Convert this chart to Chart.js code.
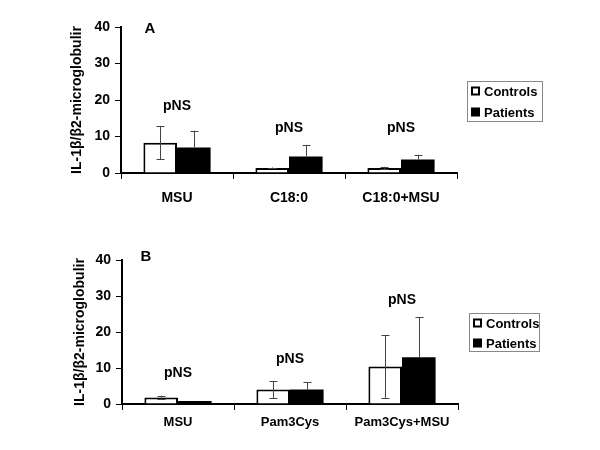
<!DOCTYPE html>
<html>
<head>
<meta charset="utf-8">
<script src="https://cdn.jsdelivr.net/npm/chart.js@4/dist/chart.umd.min.js"></script>
<style>
  html, body { margin: 0; padding: 0; background: #fff; }
  #wrap { position: relative; width: 600px; height: 450px; }
  .pane { position: absolute; left: 0; width: 600px; height: 225px; }
</style>
</head>
<body>
<div id="wrap">
  <div class="pane" style="top:0"><canvas id="cA" width="600" height="225"></canvas></div>
  <div class="pane" style="top:225px"><canvas id="cB" width="600" height="225"></canvas></div>
</div>
<script>
// ---- Data ----
const yTitle = "IL-1β/β2-microglobulir";
const seriesNames = ["Controls", "Patients"];
const yTicks = [0, 10, 20, 30, 40];

const catsA = ["MSU", "C18:0", "C18:0+MSU"];
const controlsA = [8.3, 1.4, 1.4];
const controlsSdA = [4.6, 0.1, 0.3];
const patientsA = [7.0, 4.5, 3.7];
const patientsSdA = [4.6, 3.2, 1.3];
const pLabelsA = ["pNS", "pNS", "pNS"];
const pLabelYA = [18.4, 12.4, 12.4];

const catsB = ["MSU", "Pam3Cys", "Pam3Cys+MSU"];
const controlsB = [1.8, 4.0, 10.4];
const controlsSdB = [0.5, 2.4, 8.7];
const patientsB = [0.8, 4.0, 13.0];
const patientsSdB = [0.0, 2.0, 11.1];
const pLabelsB = ["pNS", "pNS", "pNS"];
const pLabelYB = [8.6, 12.5, 28.9];

const FONT = "'Liberation Sans', Arial, sans-serif";

const errorPlugin = {
  id: 'errbars',
  afterDatasetsDraw(chart) {
    const ctx = chart.ctx, ys = chart.scales.y;
    chart.data.datasets.forEach((ds, di) => {
      const meta = chart.getDatasetMeta(di);
      meta.data.forEach((bar, i) => {
        const v = ds.data[i], sd = ds.sd[i];
        if (!sd) return;
        const yT = ys.getPixelForValue(v + sd);
        const yB = ys.getPixelForValue(ds.errUpOnly ? v : v - sd);
        const x = Math.round(bar.x) + 0.5;
        ctx.save();
        ctx.strokeStyle = '#444';
        ctx.lineWidth = 1;
        ctx.beginPath();
        ctx.moveTo(x, yT); ctx.lineTo(x, yB);
        ctx.moveTo(x - 4, Math.round(yT) + 0.5); ctx.lineTo(x + 4, Math.round(yT) + 0.5);
        if (!ds.errUpOnly) { ctx.moveTo(x - 4, Math.round(yB) + 0.5); ctx.lineTo(x + 4, Math.round(yB) + 0.5); }
        ctx.stroke();
        ctx.restore();
      });
    });
  }
};

const annotPlugin = {
  id: 'annot',
  afterDraw(chart, args, opts) {
    const ctx = chart.ctx, xs = chart.scales.x, ys = chart.scales.y, ca = chart.chartArea;
    ctx.save();
    ctx.fillStyle = '#000';
    ctx.font = 'bold 14px ' + FONT;
    ctx.textAlign = 'center';
    ctx.textBaseline = 'middle';
    opts.labels.forEach((t, i) => {
      ctx.fillText(t, xs.getPixelForValue(i), ys.getPixelForValue(opts.labelY[i]));
    });
    // panel letter
    ctx.font = 'bold 15px ' + FONT;
    ctx.fillText(opts.letter, ca.left + opts.letterDx, ca.top + opts.letterDy);
    // legend box
    const L = opts.legend;
    ctx.strokeStyle = '#888';
    ctx.lineWidth = 1;
    ctx.strokeRect(L.x + 0.5, L.y + 0.5, L.w, L.h);
    ctx.font = 'bold 13px ' + FONT;
    ctx.textAlign = 'left';
    seriesNames.forEach((name, k) => {
      const cy = L.y + L.row0 + k * L.rowGap;
      if (k === 0) {
        ctx.fillStyle = '#fff';
        ctx.fillRect(L.x + 4, cy - 4.5, 9, 9);
        ctx.strokeStyle = '#000';
        ctx.lineWidth = 2;
        ctx.strokeRect(L.x + 5, cy - 3.5, 7, 7);
      } else {
        ctx.fillStyle = '#000';
        ctx.fillRect(L.x + 4, cy - 4.5, 9, 9);
      }
      ctx.fillStyle = '#000';
      ctx.fillText(name, L.x + 17, cy + 1);
    });
    ctx.restore();
  }
};

function makeChart(id, cats, ctrl, ctrlSd, pat, patSd, cfg) {
  return new Chart(document.getElementById(id), {
    type: 'bar',
    data: {
      labels: cats,
      datasets: [
        { label: seriesNames[0], data: ctrl, sd: ctrlSd, backgroundColor: '#fff', borderColor: '#000', borderWidth: 2, borderSkipped: 'bottom' },
        { label: seriesNames[1], data: pat, sd: patSd, errUpOnly: true, backgroundColor: '#000', borderColor: '#000', borderWidth: 0 }
      ]
    },
    options: {
      responsive: false,
      animation: false,
      events: [],
      layout: { padding: { top: cfg.top, right: cfg.right, left: 0, bottom: 0 } },
      datasets: { bar: { categoryPercentage: 0.6, barPercentage: 1.0 } },
      plugins: {
        legend: { display: false },
        tooltip: { enabled: false },
        annot: cfg.annot
      },
      scales: {
        x: {
          afterFit(s) { s.height = cfg.xH; },
          grid: { display: true, drawOnChartArea: false, drawTicks: true, tickLength: 6, offset: true, color: '#000', lineWidth: 1 },
          border: { display: true, color: '#000', width: 2 },
          ticks: { color: '#000', font: { family: FONT, size: cfg.xFont, weight: 'bold' }, padding: cfg.xPad, maxRotation: 0, autoSkip: false }
        },
        y: {
          min: 0, max: 40,
          afterFit(s) { s.width = cfg.left; },
          afterBuildTicks(s) { s.ticks = yTicks.map(v => ({ value: v })); },
          grid: { display: true, drawOnChartArea: false, drawTicks: true, tickLength: 6, color: '#000', lineWidth: 1 },
          border: { display: true, color: '#000', width: 2 },
          ticks: { color: '#000', font: { family: FONT, size: 14, weight: 'bold' }, padding: 5 },
          title: { display: true, text: yTitle, color: '#000', font: { family: FONT, size: 14, weight: 'bold' }, padding: { top: cfg.titlePad, bottom: 0 } }
        }
      }
    },
    plugins: [errorPlugin, annotPlugin]
  });
}

makeChart('cA', catsA, controlsA, controlsSdA, patientsA, patientsSdA, {
  top: 27, right: 143, left: 121, xH: 52, xFont: 14, xPad: 11, titlePad: 69,
  annot: { labels: pLabelsA, labelY: pLabelYA, letter: 'A', letterDx: 29, letterDy: 2,
           legend: { x: 467, y: 81, w: 75, h: 40, row0: 10, rowGap: 21 } }
});
makeChart('cB', catsB, controlsB, controlsSdB, patientsB, patientsSdB, {
  top: 35, right: 142, left: 122, xH: 46, xFont: 13, xPad: 5, titlePad: 72,
  annot: { labels: pLabelsB, labelY: pLabelYB, letter: 'B', letterDx: 24, letterDy: -3,
           legend: { x: 469, y: 88, w: 70, h: 38, row0: 10, rowGap: 20 } }
});
</script>
</body>
</html>
